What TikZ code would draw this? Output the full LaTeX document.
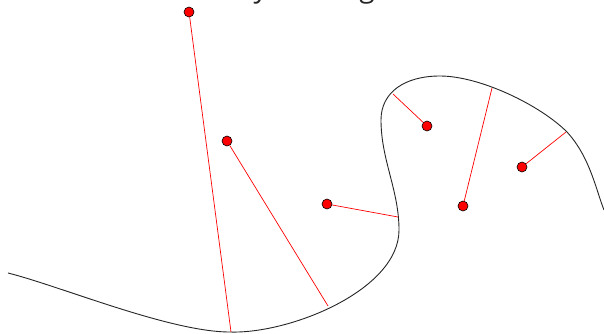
\documentclass[tikz,border=0pt]{standalone}
\usepackage{fontspec}
\setmainfont{Open Sans}
\begin{document}
\begin{tikzpicture}[x=1pt,y=-1pt,
  curve/.style={line width=0.9pt, black!85},
  foot/.style={red, line width=0.7pt},
  dot/.style={circle, fill=red, draw=black, line width=0.6pt, minimum size=10pt, inner sep=0pt},
  title/.style={font=\fontsize{28}{32}\selectfont, inner sep=0pt, anchor=base east, text=black!85}]
\useasboundingbox (0,0) rectangle (604,333);
\node[title] (t1) at (268,-2.2) {Nearest location by};
\node[title] (t2) at (375,-2.2) {dividing};
\draw[curve] (8,273) .. controls (60,286) and (170,332) .. (230,332)
  .. controls (290,334) and (399,290) .. (399,230)
  .. controls (399,190) and (381,160) .. (381,120)
  .. controls (381,92) and (405,76) .. (440,76)
  .. controls (480,76) and (540,105) .. (567,132)
  .. controls (590,157) and (596,190) .. (604,210);
\coordinate (f1) at (231,332);
\coordinate (f2) at (328,306);
\coordinate (f3) at (398,217);
\coordinate (f4) at (393,94);
\coordinate (f5) at (492,88);
\coordinate (f6) at (566,132);
\node[dot] (p1) at (189,12) {};
\node[dot] (p2) at (227,141) {};
\node[dot] (p3) at (327,204) {};
\node[dot] (p4) at (427,126) {};
\node[dot] (p5) at (463,206) {};
\node[dot] (p6) at (522,167) {};
\draw[foot] (p1) -- (f1);
\draw[foot] (p2) -- (f2);
\draw[foot] (p3) -- (f3);
\draw[foot] (p4) -- (f4);
\draw[foot] (p5) -- (f5);
\draw[foot] (p6) -- (f6);
\end{tikzpicture}
\end{document}
